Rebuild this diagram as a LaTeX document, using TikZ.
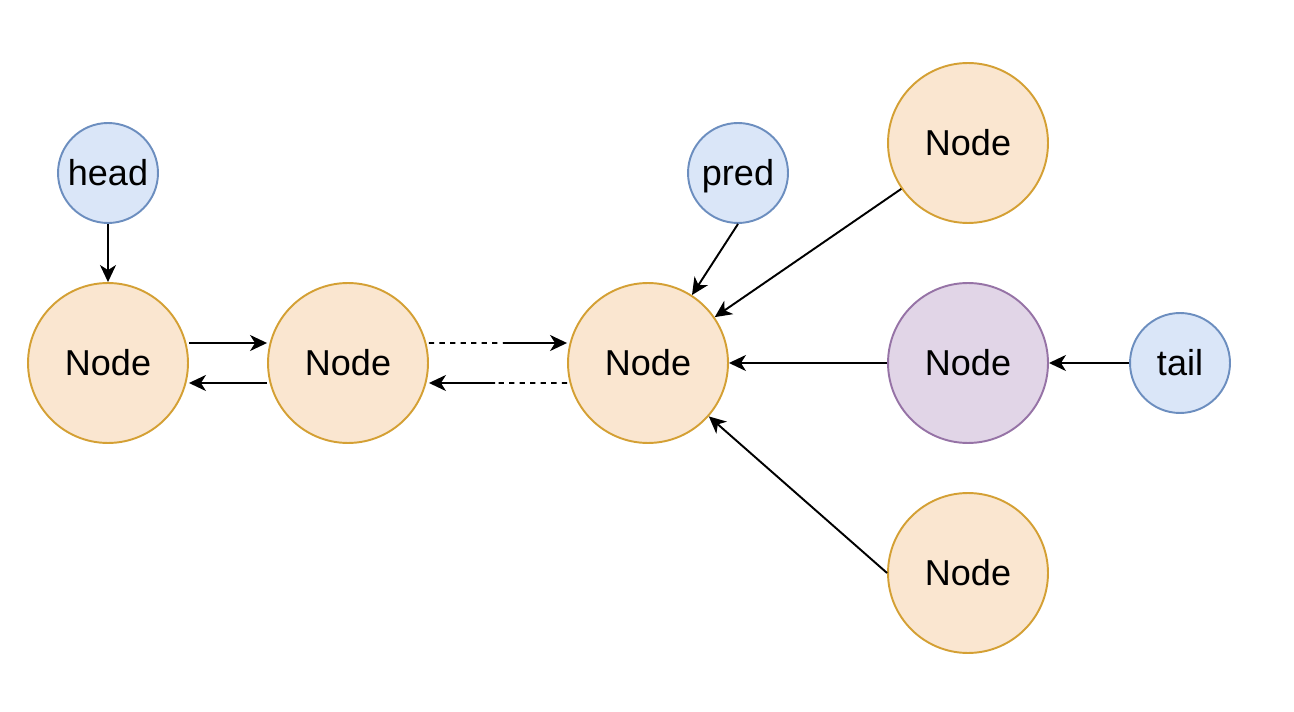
\documentclass[tikz,border=0pt]{standalone}
\usepackage{fontspec}
\setmainfont{Liberation Sans}
\usetikzlibrary{arrows.meta}
\definecolor{orfill}{HTML}{FAE6D0}
\definecolor{ordraw}{HTML}{D4A034}
\definecolor{blfill}{HTML}{DAE6F8}
\definecolor{bldraw}{HTML}{6C8EBF}
\definecolor{pufill}{HTML}{E1D5E7}
\definecolor{pudraw}{HTML}{9673A6}
\begin{document}
\begin{tikzpicture}[x=0.02cm,y=-0.02cm,>={Stealth[length=0.34cm,width=0.32cm,inset=0.1cm]},
  line join=round,font=\fontsize{20.5}{24}\selectfont,
  bignode/.style={circle,draw=ordraw,fill=orfill,line width=1.1pt,minimum size=3.2cm,inner sep=0pt},
  purplenode/.style={bignode,draw=pudraw,fill=pufill},
  ptrnode/.style={circle,draw=bldraw,fill=blfill,line width=1.1pt,minimum size=2cm,inner sep=0pt,
    text height=15pt,text depth=0.3pt},
  link/.style={->,line width=1.1pt}]
 	\useasboundingbox (0,0) rectangle (1294,712);
 	% pointers
 	\node[ptrnode] (head) at (108,173) {head};
 	\node[ptrnode] (pred) at (738,173) {pred};
 	\node[ptrnode] (tail) at (1180,363) {tail};
 	% queue nodes
 	\node[bignode] (n1) at (108,363) {Node};
 	\node[bignode] (n2) at (348,363) {Node};
 	\node[bignode] (n3) at (648,363) {Node};
 	\node[bignode] (top) at (968,143) {Node};
 	\node[purplenode] (last) at (968,363) {Node};
 	\node[bignode] (bot) at (968,573) {Node};
 	% links
 	\draw[link] (head) -- (n1);
 	\draw[link] ([yshift=0.4cm]n1.east) -- ([yshift=0.4cm]n2.west);
 	\draw[link] ([yshift=-0.4cm]n2.west) -- ([yshift=-0.4cm]n1.east);
 	\coordinate (m1) at (508,343);
 	\coordinate (m2) at (495,383);
 	\draw[dashed,line width=1.1pt] ([yshift=0.4cm]n2.east) -- (m1);
 	\draw[link] (m1) -- ([yshift=0.4cm]n3.west);
 	\draw[dashed,line width=1.1pt] ([yshift=-0.4cm]n3.west) -- (m2);
 	\draw[link] (m2) -- ([yshift=-0.4cm]n2.east);
 	\draw[link] (pred.south) -- (n3);
 	\draw[link] (top) -- (n3);
 	\draw[link] (last) -- (n3);
 	\draw[link] (bot.west) -- (n3);
 	\draw[link] (tail) -- (last);
\end{tikzpicture}
\end{document}
